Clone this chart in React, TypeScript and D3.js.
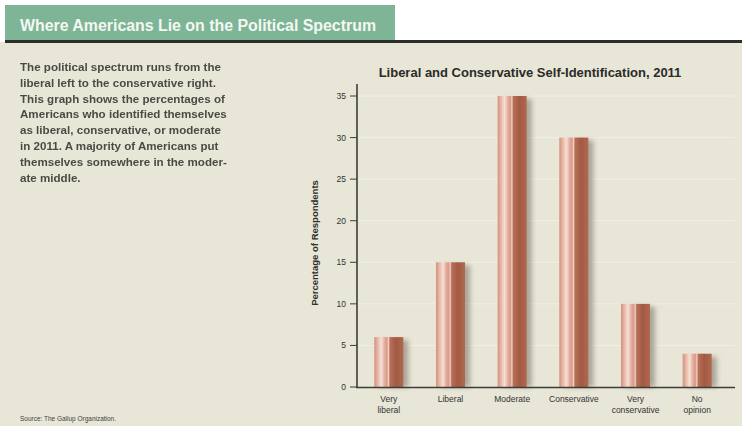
import React from "react";
import * as d3 from "d3";

const categories = ["Very liberal", "Liberal", "Moderate", "Conservative", "Very conservative", "No opinion"];
const categoryLines = [["Very", "liberal"], ["Liberal"], ["Moderate"], ["Conservative"], ["Very", "conservative"], ["No", "opinion"]];
const values = [6, 15, 35, 30, 10, 4];
const yTicks = [0, 5, 10, 15, 20, 25, 30, 35];
const headerTitle = "Where Americans Lie on the Political Spectrum";
const chartTitle = "Liberal and Conservative Self-Identification, 2011";
const yAxisTitle = "Percentage of Respondents";
const bodyLines = [
  "The political spectrum runs from the",
  "liberal left to the conservative right.",
  "This graph shows the percentages of",
  "Americans who identified themselves",
  "as liberal, conservative, or moderate",
  "in 2011. A majority of Americans put",
  "themselves somewhere in the moder-",
  "ate middle.",
];
const sourceText = "Source: The Gallup Organization.";

export default function App() {
  const W = 742, H = 426;
  const y = d3.scaleLinear().domain([0, 35]).range([387, 96]);
  const x = d3.scalePoint<string>().domain(categories).range([358, 728]).padding(0.5);
  const barW = 29;
  const font = "'Liberation Sans', Arial, sans-serif";

  return (
    <svg width={W} height={H} style={{ position: "absolute", left: 0, top: 0, display: "block" }}>
      <defs>
        <linearGradient id="barGrad" x1="0" x2="1" y1="0" y2="0">
          <stop offset="0" stopColor="#d3907c" />
          <stop offset="0.12" stopColor="#e8b8a8" />
          <stop offset="0.24" stopColor="#f6e0d8" />
          <stop offset="0.36" stopColor="#e2ab99" />
          <stop offset="0.44" stopColor="#d99a86" />
          <stop offset="0.49" stopColor="#efd2c6" />
          <stop offset="0.54" stopColor="#b86e57" />
          <stop offset="0.75" stopColor="#a35a43" />
          <stop offset="1" stopColor="#b06850" />
        </linearGradient>
        <filter id="shadow" x="-30%" y="-10%" width="160%" height="120%">
          <feGaussianBlur stdDeviation="2.5" />
        </filter>
      </defs>
      <rect x={0} y={0} width={W} height={H} fill="#e8e6d7" />
      <rect x={0} y={0} width={W} height={42} fill="#ffffff" />
      <rect x={5} y={5} width={390} height={37} fill="#7db596" />
      <rect x={5} y={40} width={W - 5} height={3} fill="#2b2e2a" />
      <text x={20} y={31} fill="#f4f7f2" fontFamily={font} fontWeight="bold" fontSize={16} textLength={356} lengthAdjust="spacingAndGlyphs">{headerTitle}</text>

      {bodyLines.map((l, i) => (
        <text key={i} x={20} y={71 + i * 15.8} fill="#2f2f2c" fontFamily={font} fontWeight="bold" fontSize={11.6} opacity={0.85}>{l}</text>
      ))}
      <text x={20} y={421} fill="#444" fontFamily={font} fontSize={7} textLength={96} lengthAdjust="spacingAndGlyphs">{sourceText}</text>

      <text x={530} y={77} textAnchor="middle" fill="#2b2b28" fontFamily={font} fontWeight="bold" fontSize={13}>{chartTitle}</text>

      {yTicks.filter(t => t > 0).map(t => (
        <line key={t} x1={358} x2={735} y1={y(t)} y2={y(t)} stroke="#f1efe4" strokeWidth={1} />
      ))}

      {values.map((v, i) => {
        const cx = x(categories[i])!;
        return (
          <g key={i}>
            <rect x={cx - barW / 2 + 5} y={y(v) + 3} width={barW} height={387 - y(v) - 3} fill="#6b6458" opacity={0.5} filter="url(#shadow)" />
            <rect x={cx - barW / 2} y={y(v)} width={barW} height={387 - y(v)} fill="url(#barGrad)" />
          </g>
        );
      })}

      <line x1={357} x2={357} y1={84} y2={388} stroke="#3d3d38" strokeWidth={1.6} />
      <line x1={356} x2={735} y1={387.5} y2={387.5} stroke="#3d3d38" strokeWidth={1.6} />
      {yTicks.map(t => (
        <g key={t}>
          <line x1={350} x2={357} y1={y(t)} y2={y(t)} stroke="#3d3d38" strokeWidth={1} />
          <text x={346} y={y(t) + 3} textAnchor="end" fill="#333" fontFamily={font} fontSize={8.5}>{t}</text>
        </g>
      ))}
      <text transform={`translate(318,243) rotate(-90)`} textAnchor="middle" fill="#2f2f2c" fontFamily={font} fontWeight="bold" fontSize={9.5}>{yAxisTitle}</text>

      {categoryLines.map((lines, i) => (
        <text key={i} textAnchor="middle" fill="#333" fontFamily={font} fontSize={8.5}>
          {lines.map((ln, j) => (
            <tspan key={j} x={x(categories[i])!} y={402 + j * 11}>{ln}</tspan>
          ))}
        </text>
      ))}
    </svg>
  );
}
